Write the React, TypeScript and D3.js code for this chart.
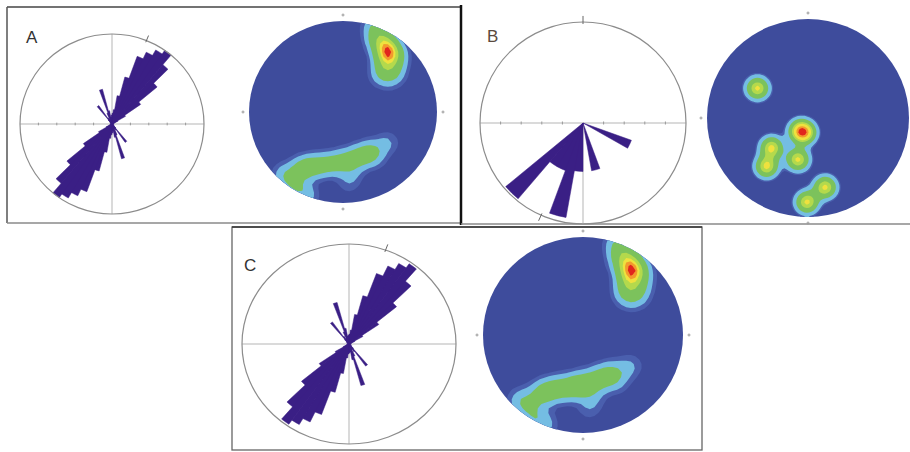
import * as d3 from "d3";

// rose bins: axial roses use 5° bins from 0° to 175° (mirrored), B uses 10° bins round the circle
const roseABins = [
  0.12, 0.16, 0.32, 0.54, 0.8, 0.88, 0.95, 1.0, 0.86, 0.64, 0.38, 0.17,
  0.07, 0.03, 0, 0, 0, 0, 0.02, 0, 0, 0, 0, 0.02,
  0, 0.03, 0.03, 0.06, 0.25, 0.08, 0.06, 0.13, 0.4, 0.15, 0.08, 0.1,
];
const roseCBins = [
  0.1, 0.14, 0.3, 0.5, 0.75, 0.86, 0.93, 0.98, 0.82, 0.58, 0.34, 0.15,
  0.06, 0.03, 0, 0, 0, 0, 0.02, 0, 0, 0, 0, 0.02,
  0, 0.03, 0.03, 0.06, 0.27, 0.09, 0.06, 0.13, 0.43, 0.16, 0.08, 0.09,
];
const roseBBins = [
  0, 0, 0, 0, 0, 0, 0, 0, 0, 0, 0, 0.5,
  0, 0, 0, 0, 0.48, 0, 0.48, 0.95, 0.5, 0.5, 0.98, 0,
  0, 0, 0, 0, 0, 0, 0, 0, 0, 0, 0, 0,
];

// poles as [x, y, weight] in units of the net radius (x east, y south)
const polesA = [
  [0.48, -0.68, 2.4], [0.47, -0.58, 1.3], [0.43, -0.77, 1.0], [0.44, -0.47, 0.8],
  [0.38, -0.87, 0.6], [0.33, -0.95, 0.5], [0.55, -0.45, 0.55], [0.57, -0.6, 0.6],
  [0.4, -0.38, 0.3], [0.36, -0.78, 0.5], [0.52, -0.36, 0.25],
  [-0.44, 0.62, 0.9], [-0.33, 0.6, 0.9], [-0.2, 0.58, 0.8], [-0.06, 0.56, 0.9],
  [0.08, 0.52, 0.8], [0.2, 0.48, 0.8], [0.3, 0.44, 0.75], [-0.55, 0.74, 0.55],
  [-0.48, 0.84, 0.5], [-0.38, 0.92, 0.45], [-0.63, 0.68, 0.45], [0.1, 0.66, 0.3],
  [0.06, 0.78, 0.25], [0.44, 0.36, 0.3], [0.35, 0.52, 0.2], [0.5, 0.32, 0.15],
];
const polesB = [
  [-0.5, -0.3, 1], [-0.08, 0.13, 0.9], [-0.03, 0.15, 0.9], [-0.36, 0.3, 1],
  [-0.41, 0.49, 1], [-0.1, 0.42, 1], [0.17, 0.7, 1], [-0.01, 0.85, 1],
];
const polesC = [
  [0.49, -0.68, 2.4], [0.47, -0.58, 1.3], [0.44, -0.77, 1.0], [0.45, -0.47, 0.8],
  [0.39, -0.87, 0.6], [0.34, -0.95, 0.5], [0.56, -0.45, 0.55], [0.58, -0.6, 0.6],
  [0.42, -0.38, 0.3], [0.37, -0.78, 0.5], [0.53, -0.36, 0.25],
  [-0.42, 0.6, 0.85], [-0.31, 0.56, 0.9], [-0.18, 0.54, 0.85], [-0.05, 0.52, 1.2],
  [0.08, 0.48, 0.85], [0.2, 0.43, 0.8], [0.3, 0.4, 0.7], [-0.55, 0.72, 0.55],
  [-0.48, 0.84, 0.5], [-0.38, 0.92, 0.45], [-0.63, 0.66, 0.45], [0.1, 0.63, 0.3],
  [0.06, 0.75, 0.25], [0.44, 0.34, 0.3], [0.35, 0.5, 0.2], [0.5, 0.3, 0.15],
];

const levelColors = ["#4a5fae", "#74bde3", "#7cc25c", "#b4d94c", "#efe13e", "#f29a2e", "#e1261d"];
const thresholdsAC = [0.04, 0.09, 0.2, 0.5, 0.68, 0.8, 0.91];
const thresholdsB = [0.07, 0.1, 0.22, 0.43, 0.56, 0.75, 0.88];

const roseFill = "#3a1f85";
const netBase = "#3e4c9c";

type RoseProps = {
  cx: number; cy: number; rx: number; ry: number;
  bins: number[]; binWidth: number; axial: boolean;
  ticks?: number; lowerAxisOnly?: boolean; marks?: number[];
};

function Rose({ cx, cy, rx, ry, bins, binWidth, axial, ticks = 0, lowerAxisOnly = false, marks = [] }: RoseProps) {
  const r = d3.scaleLinear().domain([0, 1]).range([0, 100]);
  const arc = d3.arc<any>().innerRadius(0);
  const rad = (a: number) => (a * Math.PI) / 180;
  const wedges: string[] = [];
  bins.forEach((v, i) => {
    if (v <= 0) return;
    const starts = axial ? [i * binWidth, i * binWidth + 180] : [i * binWidth];
    starts.forEach((a) => {
      wedges.push(arc({ outerRadius: r(v), startAngle: rad(a), endAngle: rad(a + binWidth) }) || "");
    });
  });
  const tickStep = ticks ? 100 / ticks : 0;
  const tickPos = ticks ? d3.range(-ticks + 1, ticks).filter((k) => k !== 0).map((k) => k * tickStep) : [];
  return (
    <g transform={`translate(${cx},${cy}) scale(${rx / 100},${ry / 100})`}>
      <line x1={-100} x2={100} y1={0} y2={0} stroke="#b5b5b5" vectorEffect="non-scaling-stroke" />
      <line x1={0} x2={0} y1={lowerAxisOnly ? 0 : -100} y2={100} stroke="#b5b5b5" vectorEffect="non-scaling-stroke" />
      {tickPos.map((x) => (
        <line key={x} x1={x} x2={x} y1={-1.5} y2={1.5} stroke="#999" vectorEffect="non-scaling-stroke" />
      ))}
      {/* one path for all petals so neighbouring bins join without seams */}
      <path d={wedges.join(" ")} fill={roseFill} stroke={roseFill} strokeWidth={0.5} vectorEffect="non-scaling-stroke" />
      <circle r={100} fill="none" stroke="#8c8c8c" strokeWidth={1.2} vectorEffect="non-scaling-stroke" />
      {marks.map((a) => (
        <line
          key={a}
          x1={98 * Math.sin(rad(a))} y1={-98 * Math.cos(rad(a))}
          x2={106 * Math.sin(rad(a))} y2={-106 * Math.cos(rad(a))}
          stroke="#666" vectorEffect="non-scaling-stroke"
        />
      ))}
    </g>
  );
}

type NetProps = {
  id: string; cx: number; cy: number; rx: number; ry: number;
  poles: number[][]; sigma: number; grid: number; thresholds: number[];
};

function Stereonet({ id, cx, cy, rx, ry, poles, sigma, grid, thresholds }: NetProps) {
  const n = grid;
  const values = new Array(n * n);
  for (let j = 0; j < n; j++) {
    for (let i = 0; i < n; i++) {
      const x = -1 + ((i + 0.5) * 2) / n;
      const y = -1 + ((j + 0.5) * 2) / n;
      let s = 0;
      for (const [px, py, w] of poles) {
        const d2 = (x - px) ** 2 + (y - py) ** 2;
        s += w * Math.exp(-d2 / (2 * sigma * sigma));
      }
      values[j * n + i] = s;
    }
  }
  const max = d3.max(values) as number;
  const norm = values.map((v) => v / max);
  const bands = d3.contours().size([n, n]).thresholds(thresholds)(norm);
  const path = d3.geoPath();
  const tick = (x: number, y: number, k: string) => (
    <g key={k} stroke="#9a9a9a">
      <line x1={x - 1.5} x2={x + 1.5} y1={y} y2={y} />
      <line x1={x} x2={x} y1={y - 1.5} y2={y + 1.5} />
    </g>
  );
  return (
    <g>
      <defs>
        <clipPath id={id}>
          <ellipse cx={cx} cy={cy} rx={rx} ry={ry} />
        </clipPath>
      </defs>
      <ellipse cx={cx} cy={cy} rx={rx} ry={ry} fill={netBase} />
      <g clipPath={`url(#${id})`}>
        <g transform={`translate(${cx - rx},${cy - ry}) scale(${(2 * rx) / n},${(2 * ry) / n})`}>
          {bands.map((b, i) => (
            <path key={i} d={path(b as any) || ""} fill={levelColors[i]} />
          ))}
        </g>
      </g>
      {tick(cx, cy - ry - 6, "n")}
      {tick(cx, cy + ry + 6, "s")}
      {tick(cx - rx - 6, cy, "w")}
      {tick(cx + rx + 6, cy, "e")}
    </g>
  );
}

export default function App() {
  const width = 910;
  const height = 452;
  const label = { fontFamily: "Liberation Sans, Arial, sans-serif", fontSize: 17 };
  return (
    <svg width={width} height={height} style={{ position: "absolute", left: 0, top: 0, background: "#fff" }}>
      {/* panel frames */}
      <line x1={7} x2={461} y1={7} y2={7} stroke="#444" strokeWidth={1.5} />
      <line x1={7} x2={7} y1={7} y2={223} stroke="#555" strokeWidth={1.5} />
      <line x1={7} x2={461} y1={223} y2={223} stroke="#8a8a8a" strokeWidth={1.5} />
      <line x1={461} x2={461} y1={5} y2={225} stroke="#111" strokeWidth={2.5} />
      <line x1={461} x2={910} y1={224} y2={224} stroke="#8a8a8a" strokeWidth={1.5} />
      <rect x={232} y={227} width={470} height={223} fill="none" stroke="#666" strokeWidth={1.3} />
      <line x1={232} x2={702} y1={227} y2={227} stroke="#333" strokeWidth={1.5} />

      <Rose cx={112} cy={124} rx={92} ry={90} bins={roseABins} binWidth={5} axial ticks={5} marks={[22]} />
      <Stereonet id="netA" cx={343} cy={112} rx={94} ry={91} poles={polesA} sigma={0.085} grid={44} thresholds={thresholdsAC} />

      <Rose cx={583} cy={123} rx={103} ry={101} bins={roseBBins} binWidth={10} axial={false} ticks={5} lowerAxisOnly marks={[0, 204]} />
      <Stereonet id="netB" cx={808} cy={118} rx={101} ry={99} poles={polesB} sigma={0.075} grid={90} thresholds={thresholdsB} />

      <Rose cx={349} cy={344} rx={107} ry={100} bins={roseCBins} binWidth={5} axial marks={[20]} />
      <Stereonet id="netC" cx={583} cy={335} rx={100} ry={98} poles={polesC} sigma={0.085} grid={44} thresholds={thresholdsAC} />

      <text x={26} y={43} {...label} fill="#333">A</text>
      <text x={487} y={42} {...label} fill="#5a4a3e">B</text>
      <text x={244} y={271} {...label} fill="#333">C</text>
    </svg>
  );
}
